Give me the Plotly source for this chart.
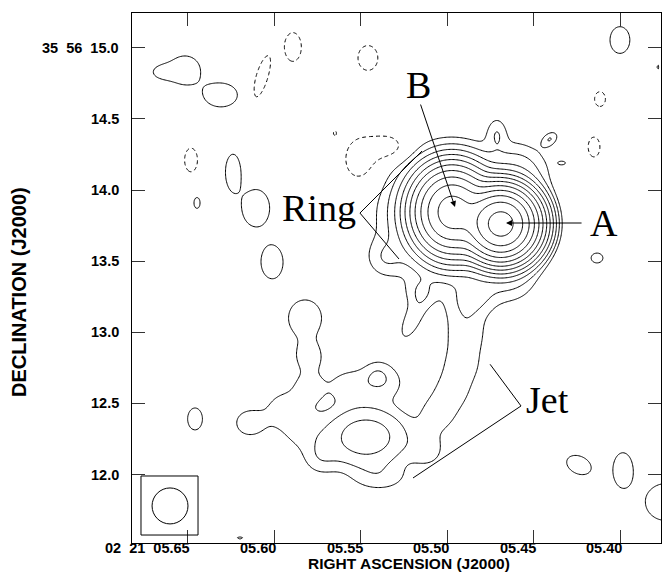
import numpy as np
import plotly.graph_objects as go

# ---------------- data ----------------
# reference position of the compact core "A"  (02 21 05.4689, +35 56 13.761)
RA_A_SEC = 5.4689
DEC_A_ARCSEC = 13.761
DEC_DEG = 35 + 56 / 60 + DEC_A_ARCSEC / 3600

# Gaussian brightness components (offsets from A in arcsec, amplitude in units of the
# lowest contour, FWHM in arcsec east-west / north-south, position angle in degrees)
comp_name = ["A", "B", "halo", "NE shoulder", "S shoulder", "top bump", "ring SE", "stem",
             "finger base", "finger",
             "jet main", "arm1", "arm2", "arm3", "arm4", "fill", "lr2", "bottom",
             "top1", "top2", "top bump2", "left1", "left2", "lobe", "bl",
             "neck1", "neck2", "finger top",
             "p1", "p1 tail", "p2", "p3", "p4", "p5", "p6", "p7", "p8", "p9", "p10",
             "p11", "p12", "p13", "p14", "p15", "p16",
             "n1", "n2", "n3", "n4", "n5a", "n5b", "n6", "n7", "n8"]
comp_east = [0.000, 0.344, 0.358, -0.119, -0.063, 0.028, 0.815, 0.162,
             0.569, 0.625,
             0.949, 0.246, 0.246, 0.274, 0.344, 0.443, 0.513, 0.850,
             1.061, 0.815, 0.871, 1.412, 1.532, 1.764, 1.272,
             1.356, 1.349, 1.377,
             2.221, 2.382, 1.968, 1.883, 2.136, 1.722, 1.609, -0.836, -0.344, -0.675, -0.548,
             -0.857, -1.160, 2.150, -0.429, 1.834, -1.103,
             2.178, 1.680, 1.462, 0.935, 0.991, 0.794, -0.696, -0.654, 1.167]
comp_north = [0.000, 0.084, 0.063, 0.365, -0.358, 0.639, -0.239, -0.478,
              -0.478, -0.675,
              -1.497, -0.569, -0.780, -0.991, -1.181, -1.339, -1.588, -1.785,
              -1.131, -1.110, -1.040, -1.434, -1.293, -1.398, -1.644,
              -1.152, -0.935, -0.661,
              1.082, 1.068, 0.906, 0.365, 0.148, 0.112, -0.267, 1.293, 0.597, -0.239, -1.694,
              -1.729, -1.954, -1.370, 0.429, -2.206, 1.103,
              0.450, 1.033, 1.244, 1.167, 0.450, 0.541, 0.878, 0.541, 0.639]
comp_amp = [2800, 720, 6.5, 2.5, 2.0, 1.6, 1.4, 1.2,
            1.3, 1.5,
            6.0, 1.4, 1.4, 1.4, 1.35, 1.45, 1.35, 1.3,
            1.45, 1.45, 0.9, 1.3, 1.4, 1.6, 1.3,
            1.5, 1.5, 1.6,
            1.8, 1.3, 1.9, 1.9, 1.9, 1.9, 1.9, 1.9, 1.9, 1.9, 1.9,
            1.9, 1.9, 1.9, 1.3, 1.3, 1.3,
            -1.9, -1.9, -1.9, -1.9, -1.9, -1.9, -1.9, -1.9, -1.3]
comp_fwhm_ew = [0.253, 0.274, 0.625, 0.337, 0.316, 0.112, 0.211, 0.211,
                0.169, 0.126,
                0.436, 0.253, 0.253, 0.253, 0.239, 0.225, 0.211, 0.351,
                0.281, 0.253, 0.155, 0.253, 0.211, 0.225, 0.211,
                0.197, 0.183, 0.281,
                0.230, 0.160, 0.240, 0.110, 0.045, 0.200, 0.160, 0.145, 0.072, 0.086, 0.128,
                0.145, 0.300, 0.108, 0.030, 0.060, 0.020,
                0.094, 0.086, 0.123, 0.145, 0.211, 0.246, 0.079, 0.086, 0.030]
comp_fwhm_ns = [0.253, 0.309, 0.625, 0.309, 0.316, 0.183, 0.211, 0.211,
                0.169, 0.316,
                0.309, 0.253, 0.253, 0.253, 0.239, 0.225, 0.211, 0.176,
                0.211, 0.211, 0.155, 0.253, 0.211, 0.197, 0.211,
                0.197, 0.183, 0.309,
                0.215, 0.100, 0.172, 0.260, 0.080, 0.270, 0.240, 0.195, 0.108, 0.072, 0.188,
                0.252, 0.270, 0.160, 0.060, 0.025, 0.050,
                0.173, 0.324, 0.210, 0.181, 0.281, 0.169, 0.108, 0.145, 0.050]
comp_pa = [0, 0, 0, 0, 0, 0, 0, 0,
           0, -25,
           0, 0, 0, 0, 0, 0, 0, 0,
           0, 0, 0, 0, 0, 0, 0,
           0, 0, 0,
           0, 0, 0, 0, 0, 0, 0, 0, -50, 0, 65,
           0, 0, 0, 90, 0, 0,
           0, -17, 0, 0, 0, 0, 0, 0, 0]

contour_levels_log2 = list(range(0, 12))      # 1, 2, 4, ... 2048 x lowest level
ra_ticks = [5.65, 5.60, 5.55, 5.50, 5.45, 5.40]
ra_tick_text = ["02\u00a0\u00a021\u00a0\u00a005.65", "05.60", "05.55", "05.50", "05.45", "05.40"]
dec_ticks = [15.0, 14.5, 14.0, 13.5, 13.0, 12.5, 12.0]
dec_tick_text = ["35\u00a0\u00a056\u00a0\u00a015.0", "14.5", "14.0", "13.5", "13.0", "12.5", "12.0"]

RA_RANGE = [5.6824, 5.3763]
DEC_RANGE = [11.519, 15.244]

# ---------------- image model ----------------
sec2arc = 15.0 * np.cos(np.deg2rad(DEC_DEG))
ra = np.linspace(RA_RANGE[0], RA_RANGE[1], 400)
dec = np.linspace(DEC_RANGE[0], DEC_RANGE[1], 400)
RA, DEC = np.meshgrid(ra, dec)
E = (RA - RA_A_SEC) * sec2arc
N = DEC - DEC_A_ARCSEC
img = np.zeros_like(E)
for de, dn, a, fe, fn, pa in zip(comp_east, comp_north, comp_amp, comp_fwhm_ew, comp_fwhm_ns, comp_pa):
    t = np.deg2rad(pa)
    e = E - de
    n = N - dn
    major = e * np.sin(t) + n * np.cos(t)
    minor = e * np.cos(t) - n * np.sin(t)
    img += a * np.power(2.0, -4.0 * ((minor / fe) ** 2 + (major / fn) ** 2))

zpos = np.where(img > 0.01, np.log2(np.clip(img, 1e-6, None)), -7.0).round(3)
zneg = np.where(img < -0.01, np.log2(np.clip(-img, 1e-6, None)), -7.0).round(3)

black = [[0, "black"], [1, "black"]]
fig = go.Figure()
fig.add_trace(go.Contour(x=ra, y=dec, z=zpos, autocontour=False,
                         contours=dict(start=contour_levels_log2[0], end=contour_levels_log2[-1],
                                       size=1, coloring="lines"),
                         line=dict(width=1, smoothing=0.8), colorscale=black,
                         showscale=False, hoverinfo="skip"))
fig.add_trace(go.Contour(x=ra, y=dec, z=zneg, autocontour=False,
                         contours=dict(start=0, end=0.5, size=1, coloring="lines"),
                         line=dict(width=1, smoothing=0.8, dash="4px,3px"), colorscale=black,
                         showscale=False, hoverinfo="skip"))

lab = dict(family="Liberation Sans, Arial, sans-serif", size=14.5, color="black")
ann = []
for v, t in zip(ra_ticks, ra_tick_text):
    ann.append(dict(x=v, y=0, xref="x", yref="paper", text="<b>%s</b>" % t, showarrow=False,
                    xanchor="right", yanchor="top", xshift=3, yshift=4, borderpad=0, font=lab))
for v, t in zip(dec_ticks, dec_tick_text):
    ann.append(dict(x=0, y=v, xref="paper", yref="y", text="<b>%s</b>" % t, showarrow=False,
                    xanchor="right", yanchor="middle", xshift=-12, borderpad=0, font=lab))
ann.append(dict(x=0.5236, y=0, xref="paper", yref="paper", text="<b>RIGHT ASCENSION (J2000)</b>",
                showarrow=False, xanchor="center", yanchor="top", yshift=-11, borderpad=0,
                font=dict(family="Liberation Sans, Arial, sans-serif", size=15.5, color="black")))
ann.append(dict(x=-0.2136, y=0.4736, xref="paper", yref="paper", text="<b>DECLINATION (J2000)</b>",
                showarrow=False, xanchor="center", yanchor="middle", textangle=-90,
                font=dict(family="Liberation Sans, Arial, sans-serif", size=20, color="black")))

serif = dict(family="Liberation Serif, Times New Roman, serif", size=38, color="black")
for txt, x, y in [("B", 5.5169, 14.738), ("A", 5.4093, 13.768), ("Ring", 5.5742, 13.873),
                  ("Jet", 5.4417, 12.524)]:
    ann.append(dict(x=x, y=y, xref="x", yref="y", text=txt, showarrow=False,
                    xanchor="center", yanchor="middle", font=serif))
# arrows to B and A
ann.append(dict(x=5.4955, y=13.880, ax=5.5157, ay=14.611, xref="x", yref="y", axref="x", ayref="y",
                text="", showarrow=True, arrowhead=2, arrowsize=1.2, arrowwidth=1, arrowcolor="black"))
ann.append(dict(x=5.4660, y=13.768, ax=5.4214, ay=13.768, xref="x", yref="y", axref="x", ayref="y",
                text="", showarrow=True, arrowhead=2, arrowsize=1.2, arrowwidth=1, arrowcolor="black"))

shapes = []
ln = dict(color="black", width=1)
for (x0, y0, x1, y1) in [(5.5505, 13.838, 5.5146, 14.274), (5.5505, 13.838, 5.5279, 13.515),
                         (5.4752, 12.775, 5.4573, 12.482), (5.4573, 12.482, 5.5198, 11.976)]:
    shapes.append(dict(type="line", x0=x0, y0=y0, x1=x1, y1=y1, xref="x", yref="y", line=ln))
# restoring beam box
shapes.append(dict(type="rect", x0=5.6772, x1=5.6442, y0=11.575, y1=11.990, xref="x", yref="y", line=ln))
shapes.append(dict(type="circle", x0=5.6708, x1=5.6500, y0=11.653, y1=11.906, xref="x", yref="y", line=ln))

axis_common = dict(showgrid=False, zeroline=False, showline=True, linecolor="black", linewidth=1,
                   mirror="ticks", ticks="inside", ticklen=13, tickwidth=1, tickcolor="#333",
                   showticklabels=False)
fig.update_layout(
    width=662, height=580, margin=dict(l=132, r=1, t=13, b=37),
    paper_bgcolor="white", plot_bgcolor="white", showlegend=False, hovermode=False,
    xaxis=dict(range=RA_RANGE, tickvals=ra_ticks, **axis_common),
    yaxis=dict(range=DEC_RANGE, tickvals=dec_ticks, **axis_common),
    annotations=ann, shapes=shapes,
)
fig.write_html("out.html", config={"displayModeBar": False},
               post_script="document.body.style.margin='0px';")
